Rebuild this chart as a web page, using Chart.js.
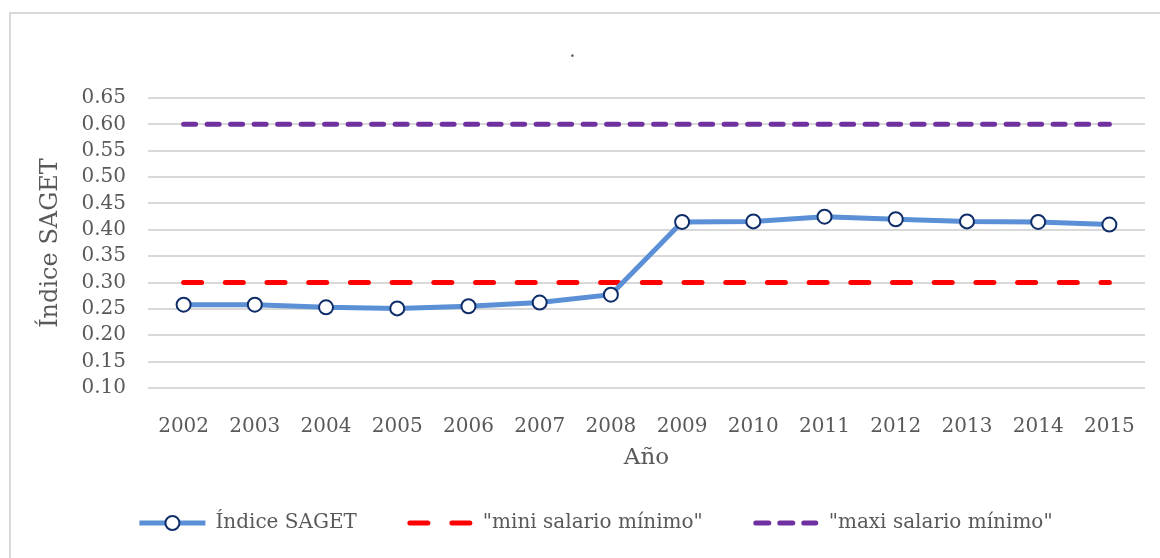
<!DOCTYPE html>
<html>
<head>
<meta charset="utf-8">
<script src="https://cdn.jsdelivr.net/npm/chart.js@4"></script>
<style>
  html, body { margin: 0; padding: 0; background: #fff; overflow: hidden; }
  #wrap { position: relative; width: 1160px; height: 558px; overflow: hidden; }
  #frame { position: absolute; left: 9px; top: 12px; width: 1200px; height: 600px; border: 2px solid #d9d9d9; box-sizing: border-box; }
  canvas { position: absolute; left: 0; top: 0; }
</style>
</head>
<body>
<div id="wrap">
  <div id="frame"></div>
  <canvas id="chart" width="1160" height="558"></canvas>
</div>
<script>
const years = ['2002', '2003', '2004', '2005', '2006', '2007', '2008', '2009', '2010', '2011', '2012', '2013', '2014', '2015'];
const sagetValues = [0.258, 0.258, 0.253, 0.251, 0.255, 0.262, 0.277, 0.415, 0.416, 0.425, 0.420, 0.416, 0.415, 0.410];
const miniValues = [0.30, 0.30, 0.30, 0.30, 0.30, 0.30, 0.30, 0.30, 0.30, 0.30, 0.30, 0.30, 0.30, 0.30];
const maxiValues = [0.60, 0.60, 0.60, 0.60, 0.60, 0.60, 0.60, 0.60, 0.60, 0.60, 0.60, 0.60, 0.60, 0.60];
const yTicks = [0.10, 0.15, 0.20, 0.25, 0.30, 0.35, 0.40, 0.45, 0.50, 0.55, 0.60, 0.65];
const seriesNames = ['Índice SAGET', '"mini salario mínimo"', '"maxi salario mínimo"'];

const textColor = '#595959';
const fontFamily = '"DejaVu Serif", serif';
const blue = '#5b8fd6';
const navy = '#0f2d69';
const red = '#ff0000';
const purple = '#7030a0';

// legend drawn by hand: line sample with marker, dashed samples
const bottomLegend = {
  id: 'bottomLegend',
  afterDraw(chart) {
    const ctx = chart.ctx;
    const y = 523;
    const sampleW = 66;
    const textGap = 10;
    const itemGap = 50;
    ctx.save();
    ctx.font = `20px ${fontFamily}`;
    const widths = seriesNames.map((n) => ctx.measureText(n).width);
    const total = widths.reduce((a, w) => a + sampleW + textGap + w, 0) + itemGap * 2;
    let x = 596 - total / 2;
    const samples = [
      { color: blue, dash: [], marker: true },
      { color: red, dash: [18, 24], marker: false },
      { color: purple, dash: [13, 11], marker: false },
    ];
    samples.forEach((s, i) => {
      ctx.strokeStyle = s.color;
      ctx.lineWidth = 5;
      ctx.lineCap = s.dash.length ? 'round' : 'butt';
      ctx.setLineDash(s.dash);
      ctx.beginPath();
      ctx.moveTo(x + (s.dash.length ? 3 : 0), y);
      ctx.lineTo(x + sampleW - (s.dash.length ? 3 : 0), y);
      ctx.stroke();
      ctx.setLineDash([]);
      if (s.marker) {
        ctx.beginPath();
        ctx.arc(x + sampleW / 2, y, 7, 0, Math.PI * 2);
        ctx.fillStyle = '#fff';
        ctx.fill();
        ctx.lineWidth = 2;
        ctx.strokeStyle = navy;
        ctx.stroke();
      }
      ctx.fillStyle = textColor;
      ctx.textBaseline = 'middle';
      ctx.textAlign = 'left';
      ctx.fillText(seriesNames[i], x + sampleW + textGap, y);
      x += sampleW + textGap + widths[i] + itemGap;
    });
    ctx.restore();
  },
};

new Chart(document.getElementById('chart'), {
  type: 'line',
  data: {
    labels: years,
    datasets: [
      {
        label: seriesNames[2],
        data: maxiValues,
        borderColor: purple,
        borderWidth: 5,
        borderDash: [12, 11.5],
        borderCapStyle: 'round',
        pointRadius: 0,
        order: 3,
      },
      {
        label: seriesNames[1],
        data: miniValues,
        borderColor: red,
        borderWidth: 5,
        borderDash: [18, 23.7],
        borderCapStyle: 'round',
        pointRadius: 0,
        order: 2,
      },
      {
        label: seriesNames[0],
        data: sagetValues,
        borderColor: blue,
        borderWidth: 5,
        pointRadius: 7,
        pointBorderWidth: 2,
        pointBackgroundColor: '#fff',
        pointBorderColor: navy,
        tension: 0,
        order: 1,
      },
    ],
  },
  options: {
    responsive: false,
    animation: false,
    layout: { padding: { top: 0, bottom: 70, left: 0, right: 15 } },
    plugins: {
      legend: { display: false },
      tooltip: { enabled: false },
      title: {
        display: true,
        text: '.',
        color: textColor,
        font: { family: fontFamily, size: 20, weight: 'normal' },
        padding: { top: 40, bottom: 34 },
      },
    },
    scales: {
      x: {
        offset: true,
        grid: { display: false },
        border: { display: false },
        ticks: { color: textColor, font: { family: fontFamily, size: 20 }, padding: 19, maxRotation: 0, autoSkip: false },
        title: { display: true, text: 'Año', color: textColor, font: { family: fontFamily, size: 23 }, padding: { top: 0, bottom: 16 } },
        afterFit: (scale) => { scale.height = 100; },
      },
      y: {
        min: 0.1,
        max: 0.65,
        grid: { color: '#d9d9d9', lineWidth: 2, drawTicks: false },
        border: { display: false },
        afterBuildTicks: (scale) => { scale.ticks = yTicks.map((v) => ({ value: v })); },
        ticks: {
          autoSkip: false,
          color: textColor,
          font: { family: fontFamily, size: 20 },
          padding: 22,
          callback: (v) => Number(v).toFixed(2),
        },
        title: { display: true, text: 'Índice SAGET', color: textColor, font: { family: fontFamily, size: 24 }, padding: { top: 36, bottom: 0 } },
        afterFit: (scale) => { scale.width = 148; },
      },
    },
  },
  plugins: [bottomLegend],
});
</script>
</body>
</html>
